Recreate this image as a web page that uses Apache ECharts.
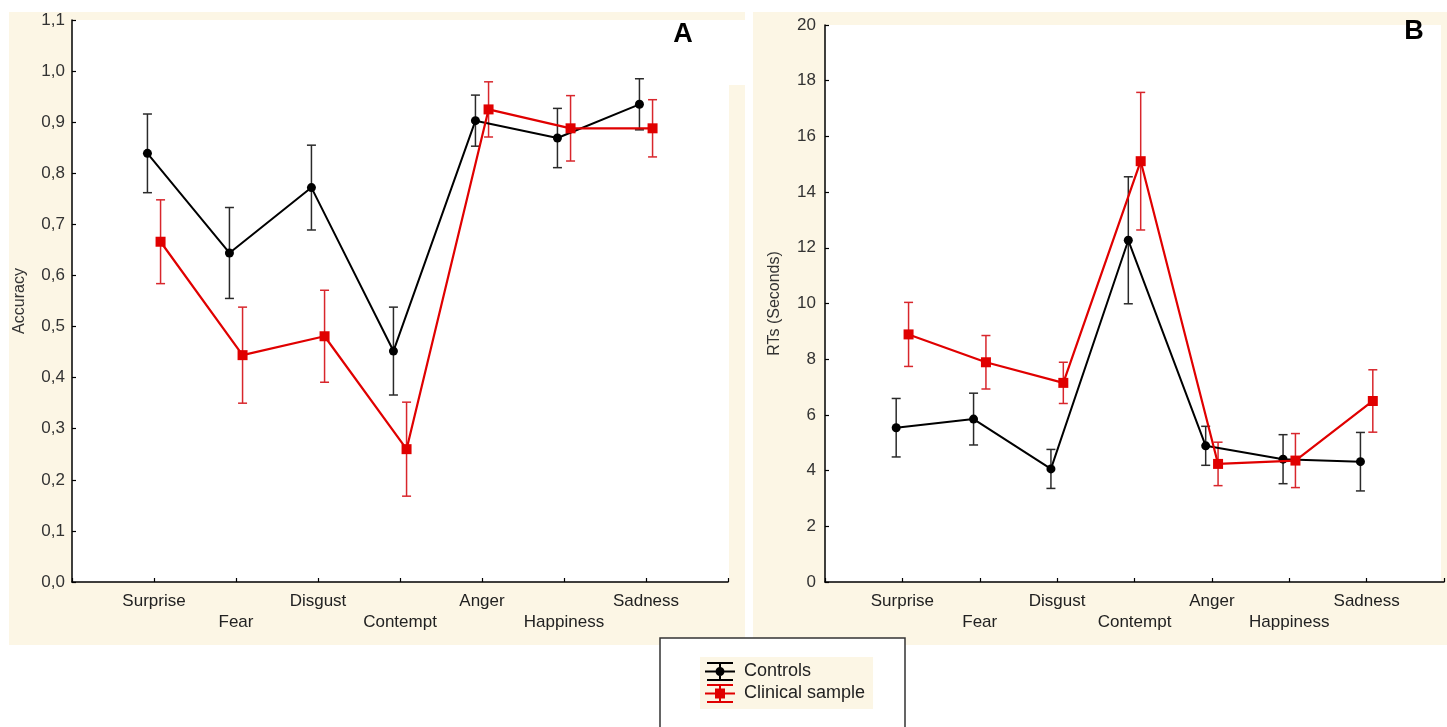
<!DOCTYPE html>
<html>
<head>
<meta charset="utf-8">
<script src="https://cdn.jsdelivr.net/npm/echarts@6/dist/echarts.min.js"></script>
<style>
html,body{margin:0;padding:0;background:#fff;}
#chart{width:1447px;height:727px;}
</style>
</head>
<body>
<div id="chart"></div>
<script>
// ---- data ----
const categories = ['Surprise', 'Fear', 'Disgust', 'Contempt', 'Anger', 'Happiness', 'Sadness'];
const seriesNames = ['Controls', 'Clinical sample'];

// Panel A: accuracy (mean, standard error)
const controlsAcc    = [0.839, 0.644, 0.772, 0.452, 0.903, 0.869, 0.935];
const controlsAccErr = [0.077, 0.089, 0.083, 0.086, 0.050, 0.058, 0.050];
const clinicalAcc    = [0.666, 0.444, 0.481, 0.260, 0.925, 0.888, 0.888];
const clinicalAccErr = [0.082, 0.094, 0.090, 0.092, 0.054, 0.064, 0.056];

// Panel B: reaction times in seconds (mean, standard error)
const controlsRT    = [5.54, 5.85, 4.06, 12.27, 4.89, 4.41, 4.32];
const controlsRTErr = [1.05, 0.93, 0.70, 2.28, 0.70, 0.88, 1.05];
const clinicalRT    = [8.89, 7.89, 7.15, 15.11, 4.24, 4.36, 6.50];
const clinicalRTErr = [1.15, 0.96, 0.74, 2.47, 0.78, 0.97, 1.12];

// tick labels
const accTickLabels = ['0,0','0,1','0,2','0,3','0,4','0,5','0,6','0,7','0,8','0,9','1,0','1,1'];
const rtTickLabels  = ['0','2','4','6','8','10','12','14','16','18','20'];

// ---- styling / layout ----
const FONT = "'Liberation Sans', Arial, sans-serif";
const CREAM = '#fcf6e5';
const BLACK = '#000000';
const RED = '#e00000';
const BLACK_ERR = '#2a2a2a';
const RED_ERR = '#d8262c';
const OFF = 0.08; // horizontal jitter between groups (category units)

function xy(vals, shift) {
  return vals.map((v, i) => [i + 1 + shift, v]);
}
function xye(vals, errs, shift) {
  return vals.map((v, i) => [i + 1 + shift, v, errs[i]]);
}
function errRender(color) {
  return function (params, api) {
    const x = api.value(0), m = api.value(1), e = api.value(2);
    const t = api.coord([x, m + e]);
    const b = api.coord([x, m - e]);
    const hw = 4.5;
    const style = { stroke: color, lineWidth: 1.5, fill: null };
    return {
      type: 'group',
      children: [
        { type: 'line', shape: { x1: t[0], y1: t[1], x2: b[0], y2: b[1] }, style: style },
        { type: 'line', shape: { x1: t[0] - hw, y1: t[1], x2: t[0] + hw, y2: t[1] }, style: style },
        { type: 'line', shape: { x1: b[0] - hw, y1: b[1], x2: b[0] + hw, y2: b[1] }, style: style }
      ]
    };
  };
}

function xAxisCfg(gridIndex) {
  return {
    type: 'value', gridIndex: gridIndex, min: 0, max: 8, interval: 1,
    axisLine: { show: true, lineStyle: { color: '#000', width: 1.5 } },
    axisTick: { show: true, inside: true, length: 4, lineStyle: { color: '#000', width: 1.2 } },
    splitLine: { show: false },
    axisLabel: {
      margin: 9, fontSize: 17, fontFamily: FONT, color: '#222', lineHeight: 21,
      formatter: function (v) {
        const i = Math.round(v) - 1;
        if (i < 0 || i >= categories.length) return '';
        return (i % 2 === 1) ? '\n' + categories[i] : categories[i];
      }
    }
  };
}

const ctrlIcon = 'path://M2,0H28V2H2Z M0,8.5H30V10.5H0Z M2,17H28V19H2Z M14,0H16V19H14Z M10.5,9.5A4.5,4.5 0 1,1 19.5,9.5A4.5,4.5 0 1,1 10.5,9.5Z';
const clinIcon = 'path://M2,0H28V2H2Z M0,8.5H30V10.5H0Z M2,17H28V19H2Z M14,0H16V19H14Z M10,4.5H20V14.5H10Z';

const chart = echarts.init(document.getElementById('chart'), null, { renderer: 'canvas' });

const option = {
  backgroundColor: '#ffffff',
  animation: false,
  textStyle: { fontFamily: FONT },
  graphic: [
    { type: 'rect', z: -20, shape: { x: 9, y: 12, width: 736, height: 633 }, style: { fill: CREAM } },
    { type: 'rect', z: -20, shape: { x: 753, y: 12, width: 694, height: 633 }, style: { fill: CREAM } },
    { type: 'rect', z: -15, shape: { x: 72, y: 20, width: 657, height: 562 }, style: { fill: '#ffffff' } },
    { type: 'rect', z: -15, shape: { x: 729, y: 20, width: 16, height: 65 }, style: { fill: '#ffffff' } },
    { type: 'rect', z: -15, shape: { x: 825, y: 25, width: 616, height: 557 }, style: { fill: '#ffffff' } },
    { type: 'rect', z: -10, shape: { x: 660, y: 638, width: 245, height: 100 }, style: { fill: '#ffffff', stroke: '#333333', lineWidth: 1.5 } },
    { type: 'text', z: 10, x: 683, y: 35, style: { text: 'A', fontSize: 27, fontWeight: 'bold', fontFamily: FONT, fill: '#000', align: 'center', verticalAlign: 'middle' } },
    { type: 'text', z: 10, x: 1414, y: 32, style: { text: 'B', fontSize: 27, fontWeight: 'bold', fontFamily: FONT, fill: '#000', align: 'center', verticalAlign: 'middle' } }
  ],
  legend: {
    orient: 'vertical', left: 700, top: 657,
    padding: [5, 8, 6, 5],
    backgroundColor: CREAM,
    itemWidth: 30, itemHeight: 19, itemGap: 3,
    textStyle: { fontSize: 18, fontFamily: FONT, color: '#222', padding: [0, 0, 0, 4] },
    itemStyle: { borderWidth: 0 },
    selectedMode: false,
    data: [
      { name: seriesNames[0], icon: ctrlIcon },
      { name: seriesNames[1], icon: clinIcon }
    ]
  },
  grid: [
    { left: 72, top: 20, width: 656, height: 562, containLabel: false },
    { left: 825, top: 25, width: 621, height: 557, containLabel: false }
  ],
  xAxis: [xAxisCfg(0), xAxisCfg(1)],
  yAxis: [
    {
      type: 'value', gridIndex: 0, min: 0, max: 1.1, interval: 0.1,
      name: 'Accuracy', nameLocation: 'middle', nameGap: 44,
      nameTextStyle: { fontSize: 16, fontFamily: FONT, color: '#333' },
      axisLine: { show: true, lineStyle: { color: '#000', width: 1.5 } },
      axisTick: { show: true, inside: true, length: 4, lineStyle: { color: '#000', width: 1.2 } },
      splitLine: { show: false },
      axisLabel: {
        margin: 7, fontSize: 17, fontFamily: FONT, color: '#333',
        formatter: function (v) { return accTickLabels[Math.round(v * 10)]; }
      }
    },
    {
      type: 'value', gridIndex: 1, min: 0, max: 20, interval: 2,
      name: 'RTs (Seconds)', nameLocation: 'middle', nameGap: 42,
      nameTextStyle: { fontSize: 16, fontFamily: FONT, color: '#333' },
      axisLine: { show: true, lineStyle: { color: '#000', width: 1.5 } },
      axisTick: { show: true, inside: true, length: 4, lineStyle: { color: '#000', width: 1.2 } },
      splitLine: { show: false },
      axisLabel: {
        margin: 9, fontSize: 17, fontFamily: FONT, color: '#333',
        formatter: function (v) { return rtTickLabels[Math.round(v / 2)]; }
      }
    }
  ],
  series: [
    // error bars
    { type: 'custom', name: 'Controls SE A', xAxisIndex: 0, yAxisIndex: 0, z: 2,
      renderItem: errRender(BLACK_ERR), encode: { x: 0, y: 1 }, data: xye(controlsAcc, controlsAccErr, -OFF) },
    { type: 'custom', name: 'Clinical SE A', xAxisIndex: 0, yAxisIndex: 0, z: 2,
      renderItem: errRender(RED_ERR), encode: { x: 0, y: 1 }, data: xye(clinicalAcc, clinicalAccErr, OFF) },
    { type: 'custom', name: 'Controls SE B', xAxisIndex: 1, yAxisIndex: 1, z: 2,
      renderItem: errRender(BLACK_ERR), encode: { x: 0, y: 1 }, data: xye(controlsRT, controlsRTErr, -OFF) },
    { type: 'custom', name: 'Clinical SE B', xAxisIndex: 1, yAxisIndex: 1, z: 2,
      renderItem: errRender(RED_ERR), encode: { x: 0, y: 1 }, data: xye(clinicalRT, clinicalRTErr, OFF) },
    // lines
    { type: 'line', name: seriesNames[0], xAxisIndex: 0, yAxisIndex: 0, z: 3,
      symbol: 'circle', symbolSize: 9, color: BLACK,
      itemStyle: { color: BLACK }, lineStyle: { color: BLACK, width: 2 },
      data: xy(controlsAcc, -OFF) },
    { type: 'line', name: seriesNames[1], xAxisIndex: 0, yAxisIndex: 0, z: 4,
      symbol: 'rect', symbolSize: 10, color: RED,
      itemStyle: { color: RED }, lineStyle: { color: RED, width: 2.2 },
      data: xy(clinicalAcc, OFF) },
    { type: 'line', name: seriesNames[0], xAxisIndex: 1, yAxisIndex: 1, z: 3,
      symbol: 'circle', symbolSize: 9, color: BLACK,
      itemStyle: { color: BLACK }, lineStyle: { color: BLACK, width: 2 },
      data: xy(controlsRT, -OFF) },
    { type: 'line', name: seriesNames[1], xAxisIndex: 1, yAxisIndex: 1, z: 4,
      symbol: 'rect', symbolSize: 10, color: RED,
      itemStyle: { color: RED }, lineStyle: { color: RED, width: 2.2 },
      data: xy(clinicalRT, OFF) }
  ]
};
chart.setOption(option);
</script>
</body>
</html>
